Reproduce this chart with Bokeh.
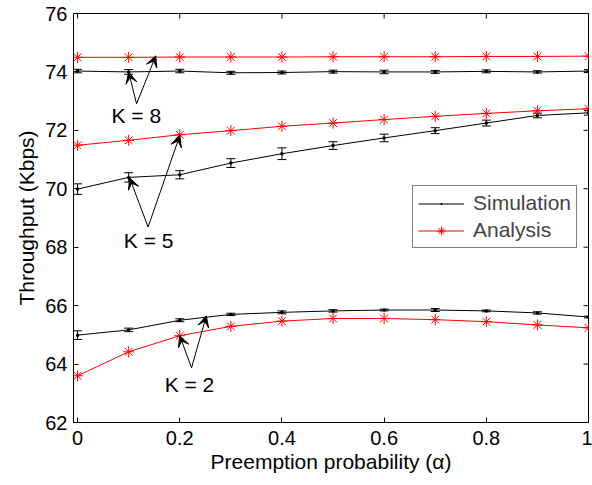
import math
from bokeh.plotting import figure
from bokeh.models import (ColumnDataSource, Range1d, FixedTicker, Whisker,
                          TeeHead, Arrow, VeeHead, Legend, LegendItem, Label)
from bokeh.embed import file_html
from bokeh.resources import INLINE

# ---------------- data ----------------
alpha = [0.0, 0.1, 0.2, 0.3, 0.4, 0.5, 0.6, 0.7, 0.8, 0.9, 1.0]

sim_k8 = [74.03, 74.00, 74.03, 73.97, 73.98, 74.01, 74.00, 74.00, 74.02, 74.00, 74.03]
err_k8 = [0.06, 0.08, 0.06, 0.05, 0.05, 0.05, 0.06, 0.05, 0.05, 0.04, 0.05]
ana_k8 = [74.50, 74.50, 74.51, 74.51, 74.51, 74.52, 74.52, 74.52, 74.53, 74.53, 74.54]

sim_k5 = [69.99, 70.39, 70.48, 70.88, 71.20, 71.48, 71.74, 71.99, 72.25, 72.51, 72.60]
err_k5 = [0.18, 0.16, 0.14, 0.15, 0.20, 0.13, 0.13, 0.10, 0.10, 0.08, 0.08]
ana_k5 = [71.49, 71.66, 71.85, 71.99, 72.14, 72.25, 72.37, 72.48, 72.58, 72.67, 72.74]

sim_k2 = [64.99, 65.17, 65.50, 65.70, 65.77, 65.82, 65.85, 65.85, 65.82, 65.75, 65.61]
err_k2 = [0.15, 0.06, 0.05, 0.04, 0.05, 0.04, 0.03, 0.05, 0.03, 0.04, 0.03]
ana_k2 = [63.60, 64.42, 64.97, 65.29, 65.47, 65.56, 65.56, 65.52, 65.45, 65.34, 65.24]

x_ticks = [0.0, 0.2, 0.4, 0.6, 0.8, 1.0]
x_tick_labels = ["0", "0.2", "0.4", "0.6", "0.8", "1"]
y_ticks = [62, 64, 66, 68, 70, 72, 74, 76]
y_tick_labels = ["62", "64", "66", "68", "70", "72", "74", "76"]

x_min, x_max = -0.008, 1.0
y_min, y_max = 62, 76

# annotations: (label, text position, arrow start, arrow ends)
annotations = [
    ("K = 8", (0.115, 72.50), (0.1155, 72.91), [(0.100, 73.99), (0.153, 74.55)]),
    ("K = 5", (0.139, 68.22), (0.138, 68.69), [(0.102, 70.37), (0.200, 71.82)]),
    ("K = 2", (0.219, 63.29), (0.223, 63.87), [(0.200, 64.97), (0.252, 65.65)]),
]

FONT = "Liberation Sans"

# ---------------- figure ----------------
p = figure(width=592, height=484, output_backend="svg", toolbar_location=None,
           x_range=Range1d(x_min, x_max), y_range=Range1d(y_min, y_max),
           min_border_left=73, min_border_right=4, min_border_top=13, min_border_bottom=62)
p.grid.visible = False
p.outline_line_color = "black"
p.outline_line_width = 1
p.background_fill_color = "white"

for ax in (p.xaxis[0], p.yaxis[0]):
    ax.major_tick_in = 5
    ax.major_tick_out = 0
    ax.minor_tick_line_color = None
    ax.axis_line_color = "black"
    ax.major_tick_line_color = "black"
    ax.major_label_text_font = FONT
    ax.major_label_text_font_size = "20px"
    ax.major_label_text_color = "black"
    ax.axis_label_text_font = FONT
    ax.axis_label_text_font_size = "21px"
    ax.axis_label_text_font_style = "normal"
    ax.axis_label_text_color = "black"

p.xaxis[0].ticker = FixedTicker(ticks=x_ticks)
p.xaxis[0].major_label_overrides = {t: l for t, l in zip(x_ticks, x_tick_labels)}
p.yaxis[0].ticker = FixedTicker(ticks=y_ticks)
p.yaxis[0].major_label_overrides = {t: l for t, l in zip(y_ticks, y_tick_labels)}
p.xaxis[0].axis_label = "Preemption probability (\u03b1)"
p.yaxis[0].axis_label = "Throughput (Kbps)"
p.xaxis[0].major_label_standoff = 8
p.yaxis[0].major_label_standoff = 6
p.xaxis[0].axis_label_standoff = 2
p.yaxis[0].axis_label_standoff = 4

# inward ticks on the top and right edges of the box
p.ray(x=x_ticks, y=[y_max] * len(x_ticks), length=5, length_units="screen",
      angle=-math.pi / 2, line_color="black", line_width=1)
p.ray(x=[x_max] * len(y_ticks), y=y_ticks, length=5, length_units="screen",
      angle=math.pi, line_color="black", line_width=1)

sim_items = []
ana_items = []
for sim, err, ana in [(sim_k8, err_k8, ana_k8), (sim_k5, err_k5, ana_k5), (sim_k2, err_k2, ana_k2)]:
    src = ColumnDataSource(dict(
        x=alpha, sim=sim, ana=ana,
        upper=[s + e for s, e in zip(sim, err)],
        lower=[s - e for s, e in zip(sim, err)],
    ))
    w = Whisker(source=src, base="x", upper="upper", lower="lower", dimension="height",
                line_color="black", line_width=1,
                upper_head=TeeHead(size=9, line_color="black", line_width=1),
                lower_head=TeeHead(size=9, line_color="black", line_width=1))
    p.add_layout(w)
    la = p.line("x", "ana", source=src, line_color="red", line_width=1)
    sa = p.scatter("x", "ana", source=src, marker="asterisk", size=11,
                   line_color="red", line_width=1)
    ls = p.line("x", "sim", source=src, line_color="black", line_width=1)
    ss = p.scatter("x", "sim", source=src, marker="dot", size=14,
                   line_color="black", fill_color="black")
    sim_items += [ls, ss]
    ana_items += [la, sa]

for text, (tx, ty), (sx, sy), ends in annotations:
    p.add_layout(Label(x=tx, y=ty, text=text, text_align="center", text_baseline="middle",
                       text_font=FONT, text_font_size="21px", text_color="black"))
    for ex, ey in ends:
        p.add_layout(Arrow(x_start=sx, y_start=sy, x_end=ex, y_end=ey,
                           line_color="black", line_width=1,
                           end=VeeHead(size=11, fill_color="black", line_color="black",
                                       line_width=1)))

legend = Legend(items=[LegendItem(label="Simulation", renderers=sim_items[:2]),
                       LegendItem(label="Analysis", renderers=ana_items[:2])],
                location=(339, 174), margin=0, padding=5, spacing=3,
                glyph_width=46, glyph_height=21, label_standoff=9,
                label_text_font=FONT, label_text_font_size="21px",
                label_height=21,
                border_line_color="black", border_line_width=1,
                background_fill_color="white", background_fill_alpha=1.0)
p.add_layout(legend)

open("out.html", "w").write(file_html(p, INLINE))
